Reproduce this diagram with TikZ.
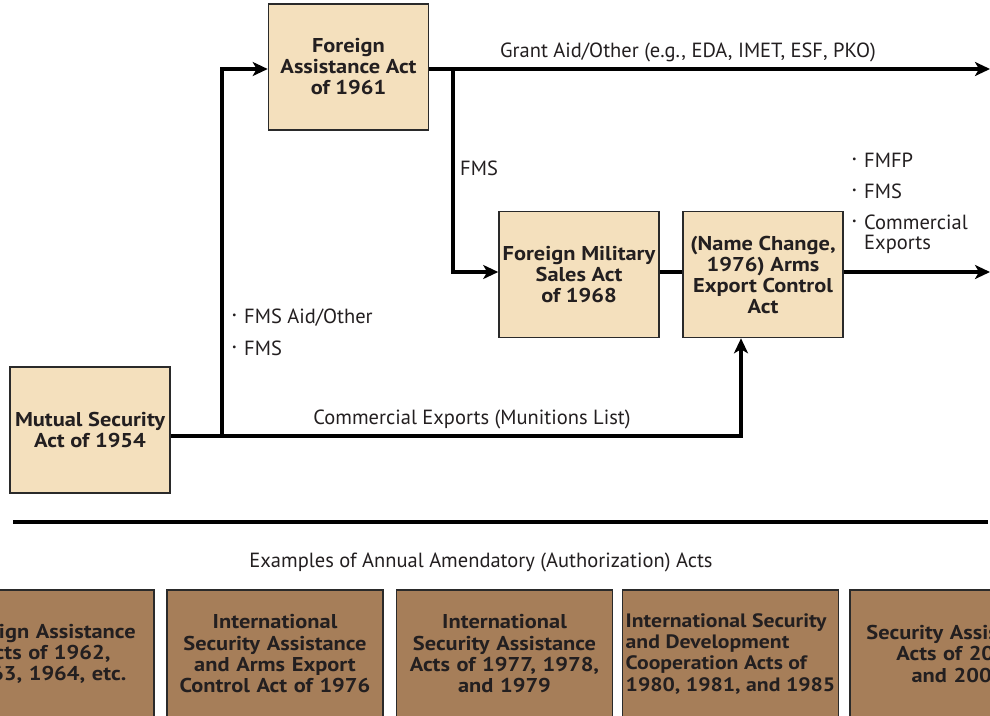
\documentclass[tikz,border=0pt]{standalone}
\usepackage{fontspec}
\setmainfont{PT Sans}
\newfontfamily\boxfont[FakeStretch=1.12]{PT Sans}
\usetikzlibrary{arrows.meta}
\definecolor{boxfill}{HTML}{F4E0BD}
\definecolor{brownfill}{HTML}{A67E59}
\definecolor{ink}{HTML}{231F20}
\definecolor{edge}{HTML}{2A2A2A}
\newcommand\bul{\makebox[12pt][l]{\raisebox{0.2em}{\fontsize{10}{10}\selectfont\textbullet}}}
\begin{document}
\begin{tikzpicture}[x=1pt,y=-1pt,
  act/.style={draw=edge, line width=1.6pt, fill=boxfill, minimum width=160pt, minimum height=126pt,
    inner sep=2pt, align=center, font=\boxfont\fontsize{20}{21}\selectfont\bfseries, text=ink},
  amendbase/.style={draw=edge, line width=1.6pt, fill=brownfill, minimum width=216pt, minimum height=128pt,
    inner sep=1pt, font=\boxfont\fontsize{20}{21.3}\selectfont\bfseries, text=ink, anchor=north},
  amend/.style={amendbase, text width=210pt, align=center, inner sep=3pt},
  lbl/.style={font=\fontsize{20.5}{22}\selectfont, text=ink, inner sep=0pt},
  flow/.style={line width=4pt, draw=black},
  tip/.style={-{Stealth[length=15pt,width=14pt,inset=4pt]}},
  ]
\clip (0,0) rectangle (990,715);
\path[use as bounding box] (0,0) rectangle (990,715);

% main act boxes
\node[act] (faa) at (348.5,67) {Foreign\\Assistance Act\\of 1961};
\node[act] (fmsa) at (579,274.5) {Foreign Military\\Sales Act\\of 1968};
\node[act] (aeca) at (763,274.5) {(Name Change,\\1976) Arms\\Export Control\\Act};
\node[act] (msa) at (90,430) {Mutual Security\\Act of 1954};

% junction coordinates
\coordinate (j1) at (222,436);
\coordinate (j2) at (453,69);
\coordinate (c3) at (741,436);
\coordinate (endA) at (990,69);
\coordinate (endB) at (990,272);
\coordinate (yf) at (0,272);

% connectors
\draw[flow, tip] (msa.east |- j1) -- (c3) -- (c3 |- aeca.south);
\draw[flow, tip] (j1) -- (j1 |- j2) -- (faa.west |- j2);
\draw[flow, tip] (faa.east |- j2) -- (endA);
\draw[flow, tip] (j2) -- (j2 |- yf) -- (fmsa.west |- yf);
\draw[flow] (fmsa.east |- yf) -- (aeca.west |- yf);
\draw[flow, tip] (aeca.east |- yf) -- (endB);

% connector labels
\node[lbl, anchor=base] (lgrant) at (688,57) {Grant Aid/Other (e.g., EDA, IMET, ESF, PKO)};
\node[lbl, anchor=base west] (lfms) at (460,175) {FMS};
\node[lbl, anchor=base west] (l1) at (852,167) {\bul FMFP};
\node[lbl, anchor=base west] (l2) at (852,198) {\bul FMS};
\node[lbl, anchor=base west] (l3) at (852,229) {\bul Commercial};
\node[lbl, anchor=base west] (l4) at (864,249) {Exports};
\node[lbl, anchor=base west] (l5) at (232,323) {\bul FMS Aid/Other};
\node[lbl, anchor=base west] (l6) at (232,355) {\bul FMS};
\node[lbl, anchor=base] (lcom) at (472,424) {Commercial Exports (Munitions List)};

% divider
\coordinate (d1) at (13,522);
\coordinate (d2) at (988,522);
\draw[line width=4pt] (d1) -- (d2);
\node[lbl, anchor=base] (lex) at (481,567) {Examples of Annual Amendatory (Authorization) Acts};

% amendatory acts
\node[amend] (b1) at (46,589) {Foreign Assistance\\Acts of 1962,\\1963, 1964, etc.};
\node[amend] (b2) at (275,589) {International\\Security Assistance\\and Arms Export\\Control Act of 1976};
\node[amend] (b3) at (504.5,589) {International\\Security Assistance\\Acts of 1977, 1978,\\and 1979};
\node[amendbase, align=left, font=\boxfont\fontsize{19.4}{21.3}\selectfont\bfseries] (b4) at (730.5,589) {International Security\\and Development\\Cooperation Acts of\\1980, 1981, and 1985};
\node[amend] (b5) at (958,589) {Security Assistance\\Acts of 2000\\and 2002};
\end{tikzpicture}
\end{document}
